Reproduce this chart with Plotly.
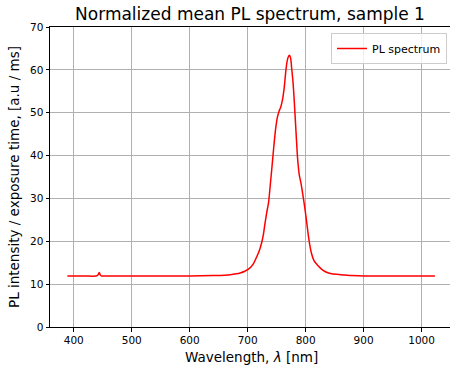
import plotly.graph_objects as go

wavelength = [389, 400, 420, 438, 442, 444, 446, 448, 460, 500, 550, 600, 640, 660, 670, 680,
              687, 695, 704, 710, 716, 720, 724, 727, 730, 733, 736, 739, 742, 745, 748, 751,
              754, 757, 760, 763, 766, 768, 770, 772, 774, 776, 778, 780, 783, 786, 789, 792,
              795, 798, 801, 804, 807, 810, 814, 818, 825, 830, 837, 845, 860, 880, 900, 950,
              1000, 1023]
intensity = [11.9, 11.9, 11.9, 11.9, 12.2, 12.7, 12.1, 11.9, 11.9, 11.9, 11.9, 11.9, 12.0, 12.1, 12.2, 12.4,
             12.6, 13.0, 13.8, 14.8, 16.5, 17.8, 19.6, 21.5, 24.3, 26.8, 29.0, 33.2, 37.5, 42.0, 46.0, 48.8,
             50.3, 51.3, 53.0, 55.8, 60.0, 62.0, 63.0, 63.4, 62.8, 60.2, 57.5, 53.5, 46.4, 39.5, 35.5, 33.5,
             31.0, 28.3, 25.3, 22.0, 19.2, 17.2, 15.6, 14.8, 13.8, 13.2, 12.7, 12.4, 12.2, 12.0, 11.9, 11.9,
             11.9, 11.9]
x_ticks = [400, 500, 600, 700, 800, 900, 1000]
y_ticks = [0, 10, 20, 30, 40, 50, 60, 70]

FONT = "DejaVu Sans"

fig = go.Figure()
fig.add_trace(go.Scatter(
    x=wavelength, y=intensity, mode="lines", name="PL spectrum",
    line=dict(color="red", width=1.5, shape="spline", smoothing=0.6),
))

fig.update_layout(
    width=450, height=370,
    margin=dict(l=50, r=0, t=27, b=43, autoexpand=False),
    paper_bgcolor="white", plot_bgcolor="white",
    font=dict(family=FONT, color="#222222"),
    title=dict(text="Normalized mean PL spectrum, sample 1", x=0.5, xanchor="center",
               xref="paper", y=1 - 14 / 370, yanchor="middle", yref="container",
               font=dict(size=17, family=FONT, color="black")),
    showlegend=True,
    legend=dict(x=0.9925, xanchor="right", y=0.98, yanchor="top",
                bordercolor="#cccccc", borderwidth=1, bgcolor="rgba(255,255,255,0.8)",
                font=dict(size=11, family=FONT, color="black"),
                itemwidth=30, tracegroupgap=0),
)

fig.update_xaxes(
    range=[359, 1049], tickvals=x_ticks, ticktext=[str(v) for v in x_ticks],
    showgrid=True, gridcolor="#b0b0b0", gridwidth=1, automargin=False,
    showline=True, linecolor="black", linewidth=1, mirror=True,
    ticks="outside", ticklen=3.5, tickcolor="black", tickwidth=1,
    tickfont=dict(size=10.5, family=FONT, color="black"), zeroline=False,
)
fig.update_yaxes(
    range=[0, 70], tickvals=y_ticks, ticktext=[str(v) for v in y_ticks],
    showgrid=True, gridcolor="#b0b0b0", gridwidth=1, automargin=False,
    showline=True, linecolor="black", linewidth=1, mirror=False,
    ticks="outside", ticklen=3.5, tickcolor="black", tickwidth=1,
    tickfont=dict(size=10.5, family=FONT, color="black"), zeroline=False,
)

fig.add_annotation(text="Wavelength, <i>λ</i> [nm]", xref="paper", yref="paper",
                   x=0.5 + 1.5 / 400, y=-30 / 300, xanchor="center", yanchor="middle",
                   showarrow=False, font=dict(size=13.5, family=FONT, color="black"))
fig.add_annotation(text="PL intensity / exposure time, [a.u / ms]", xref="paper", yref="paper",
                   x=-36 / 400, y=0.5, xanchor="center", yanchor="middle", textangle=-90,
                   showarrow=False, font=dict(size=13.5, family=FONT, color="black"))

post = ("document.body.style.margin='0';document.body.style.padding='0';"
        "document.body.style.overflow='hidden';"
        "document.documentElement.style.overflow='hidden';")
fig.write_html("out.html", post_script=post, config={"displayModeBar": False})
